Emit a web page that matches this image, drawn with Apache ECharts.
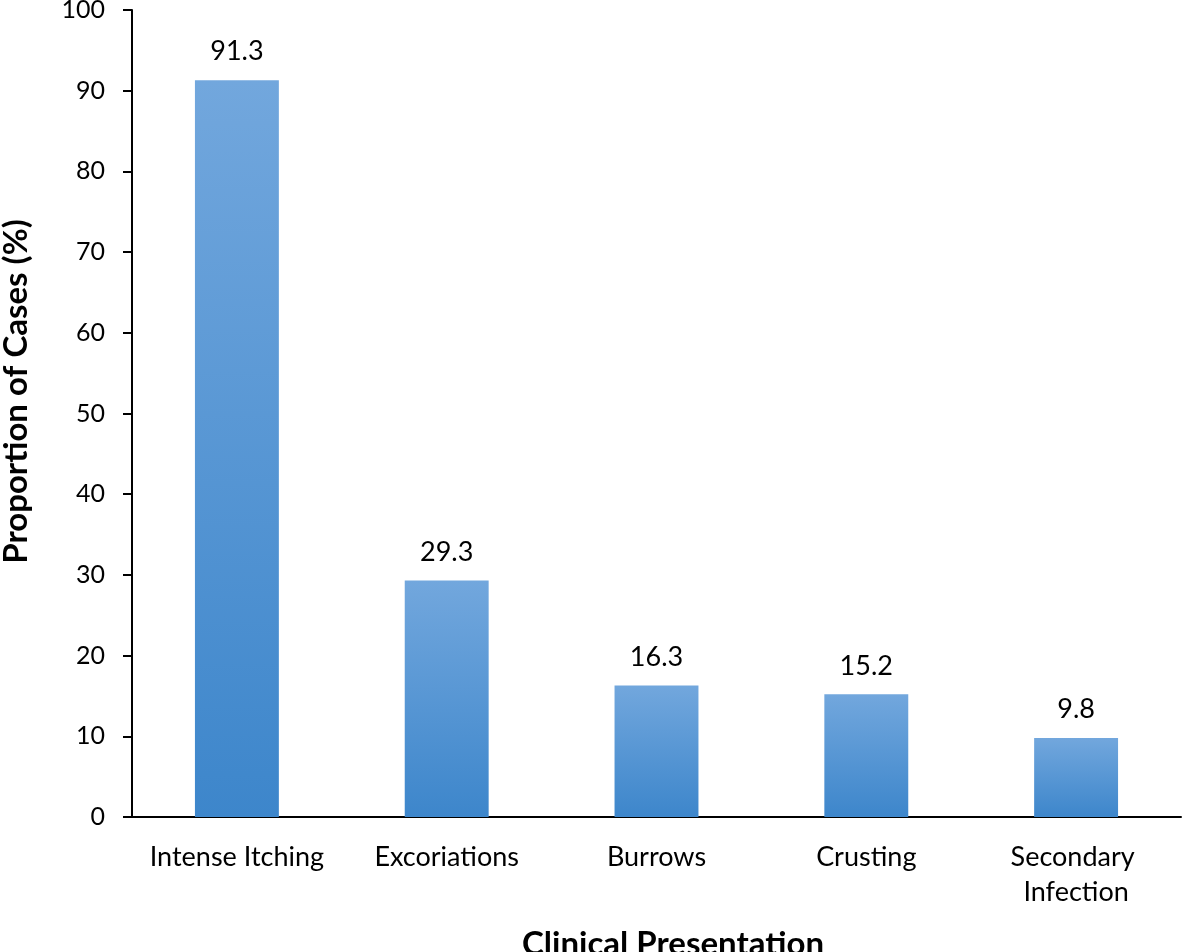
<!DOCTYPE html>
<html>
<head>
<meta charset="utf-8">
<script src="https://cdn.jsdelivr.net/npm/echarts@6/dist/echarts.min.js"></script>
<style>
html,body{margin:0;padding:0;background:#fff;}
#chart{width:1182px;height:952px;}
</style>
</head>
<body>
<div id="chart"></div>
<script>
const categories = ['Intense Itching', 'Excoriations', 'Burrows', 'Crusting', 'Secondary Infection'];
const values = [91.3, 29.3, 16.3, 15.2, 9.8];
const yTicks = [0, 10, 20, 30, 40, 50, 60, 70, 80, 90, 100];
const xTitle = 'Clinical Presentation';
const yTitle = 'Proportion of Cases (%)';

const FONT = 'Lato';
const chart = echarts.init(document.getElementById('chart'), null, {renderer: 'canvas'});
chart.setOption({
  animation: false,
  backgroundColor: '#ffffff',
  grid: {left: 132, right: 1, top: 10, bottom: 135, containLabel: false, outerBoundsMode: 'none'},
  xAxis: {
    type: 'category',
    data: categories,
    axisLine: {lineStyle: {color: '#000', width: 2}},
    axisTick: {alignWithLabel: true, length: 7, lineStyle: {color: '#000', width: 2}},
    axisLabel: {
      color: '#000', fontFamily: FONT, fontSize: 27, margin: 23,
      width: 200, overflow: 'break', lineHeight: 35, interval: 0
    },
    name: xTitle,
    nameLocation: 'middle',
    nameGap: 111,
    nameTextStyle: {color: '#000', fontFamily: FONT, fontWeight: 'bold', fontSize: 33, padding: [0, 0, 0, 33]}
  },
  yAxis: {
    type: 'value',
    min: yTicks[0],
    max: yTicks[yTicks.length - 1],
    interval: yTicks[1] - yTicks[0],
    splitLine: {show: false},
    axisLine: {show: true, lineStyle: {color: '#000', width: 2}},
    axisTick: {show: true, length: 9, lineStyle: {color: '#000', width: 2}},
    axisLabel: {color: '#000', fontFamily: FONT, fontSize: 25, margin: 27},
    name: yTitle,
    nameLocation: 'middle',
    nameGap: 99,
    nameRotate: 90,
    nameTextStyle: {color: '#000', fontFamily: FONT, fontWeight: 'bold', fontSize: 33, padding: [0, 0, 0, 44]}
  },
  series: [{
    type: 'bar',
    data: values,
    barWidth: '40%',
    itemStyle: {
      color: new echarts.graphic.LinearGradient(0, 0, 0, 1, [
        {offset: 0, color: '#72a7dd'},
        {offset: 1, color: '#3d86cb'}
      ], false)
    },
    label: {
      show: true, position: 'top', distance: 15,
      color: '#000', fontFamily: FONT, fontSize: 27,
      formatter: p => p.value.toFixed(1)
    }
  }]
});
</script>
</body>
</html>
